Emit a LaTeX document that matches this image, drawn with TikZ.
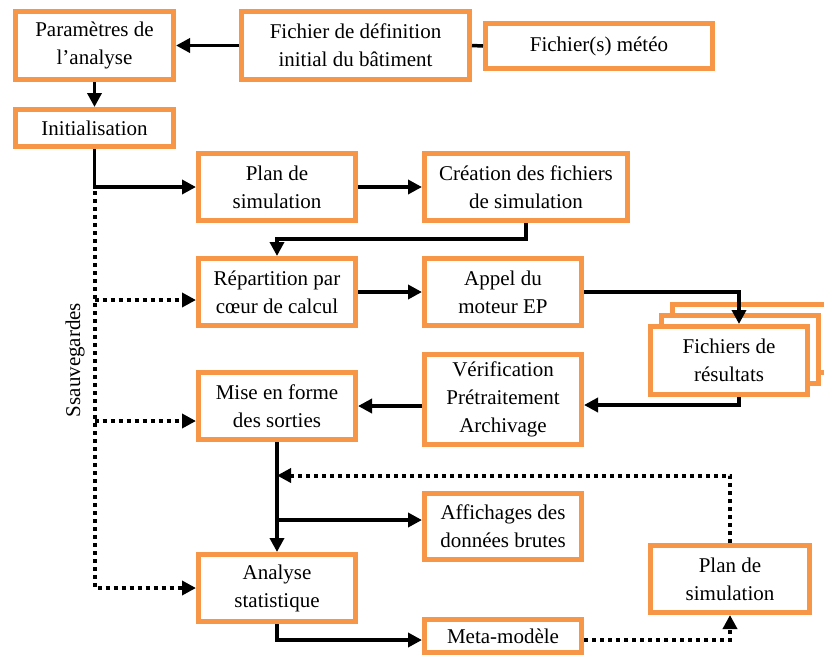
\documentclass[tikz,border=0pt]{standalone}
\usepackage{fontspec}
\setmainfont{Liberation Serif}
\usetikzlibrary{arrows.meta,calc,shadows}
\definecolor{boxorange}{HTML}{F79646}
\begin{document}
\begin{tikzpicture}[x=1pt,y=-1pt,
  font=\fontsize{21}{28}\selectfont,
  box/.style={draw=boxorange,line width=5pt,fill=white,align=center,inner sep=0pt,minimum width=157pt,minimum height=67pt},
  conn/.style={line width=3.5pt},
  arr/.style={conn,-{Triangle[length=14pt,width=14pt]}},
  dotline/.style={line width=4pt,dash pattern=on 4pt off 4pt},
  dotarr/.style={dotline,-{Triangle[length=14pt,width=14pt]}}]
\useasboundingbox (0,0) rectangle (824,657);

\node[box,minimum width=158pt,minimum height=68pt] (P) at (94.5,45.5) {Paramètres de\\l’analyse};
\node[box,minimum width=228pt,minimum height=68pt] (F) at (355.5,45.5) {Fichier de définition\\initial du bâtiment};
\node[box,minimum width=227pt,minimum height=45pt] (M) at (599,46) {Fichier(s) météo};
\node[box,minimum width=158pt,minimum height=37pt] (I) at (94.5,128) {Initialisation};
\node[box] (PS1) at (277,187) {Plan de\\simulation};
\node[box,minimum width=203pt] (C) at (526,187) {Création des fichiers\\de simulation};
\node[box] (R) at (277,292) {Répartition par\\cœur de calcul};
\node[box] (A) at (503,292) {Appel du\\moteur EP};
\node[box,minimum height=68pt,double copy shadow={shadow xshift=11pt,shadow yshift=11pt}] (FR) at (729,360.5) {Fichiers de\\résultats};
\node[box,minimum height=90pt] (V) at (503,399.5) {Vérification\\Prétraitement\\Archivage};
\node[box] (MF) at (277,406) {Mise en forme\\des sorties};
\node[box,minimum height=66pt] (AF) at (503,526.5) {Affichages des\\données brutes};
\node[box] (AS) at (277,588) {Analyse\\statistique};
\node[box,minimum height=33pt] (MM) at (503,636) {Meta-modèle};
\node[box,minimum width=159pt] (PS2) at (730,579) {Plan de\\simulation};
\node[rotate=90] (SV) at (75,360) {Ssauvegardes};

% solid connectors
\draw[conn] (M.west) -- (F.east);
\draw[arr] (F.west) -- (P.east);
\draw[arr] (P.south) -- (I.north);
\draw[arr] (I.south) |- (PS1.west);
\draw[arr] (PS1.east) -- (C.west);
\draw[arr] (C.south) -- ++(0,16) -| (R.north);
\draw[arr] (R.east) -- (A.west);
\draw[arr] (A.east) -| ($(FR.north)+(10,0)$);
\draw[arr] ($(FR.south)+(10,0)$) |- ($(V.east)+(0,5.5)$);
\draw[arr] (V.west |- MF.east) -- (MF.east);
\draw[arr] (MF.south) -- (AS.north);
\draw[arr] (MF.south |- 0,520) -- (AF.west |- 0,520);
\draw[arr] (AS.south) |- ($(MM.west)+(0,4)$);

% dotted connectors
\path (MF.south) ++(0,33.5) coordinate (fb);
\draw[dotarr] (PS2.north) |- (fb);
\draw[dotarr] ($(MM.east)+(0,4)$) -| (PS2.south);
\coordinate (st) at ($(I.south |- PS1.west)+(0,4)$);
\draw[dotarr] (st) |- (AS.west);
\draw[dotarr] (st |- 0,300) -- (R.west |- 0,300);
\draw[dotarr] (st |- 0,421) -- (MF.west |- 0,421);
\end{tikzpicture}
\end{document}
